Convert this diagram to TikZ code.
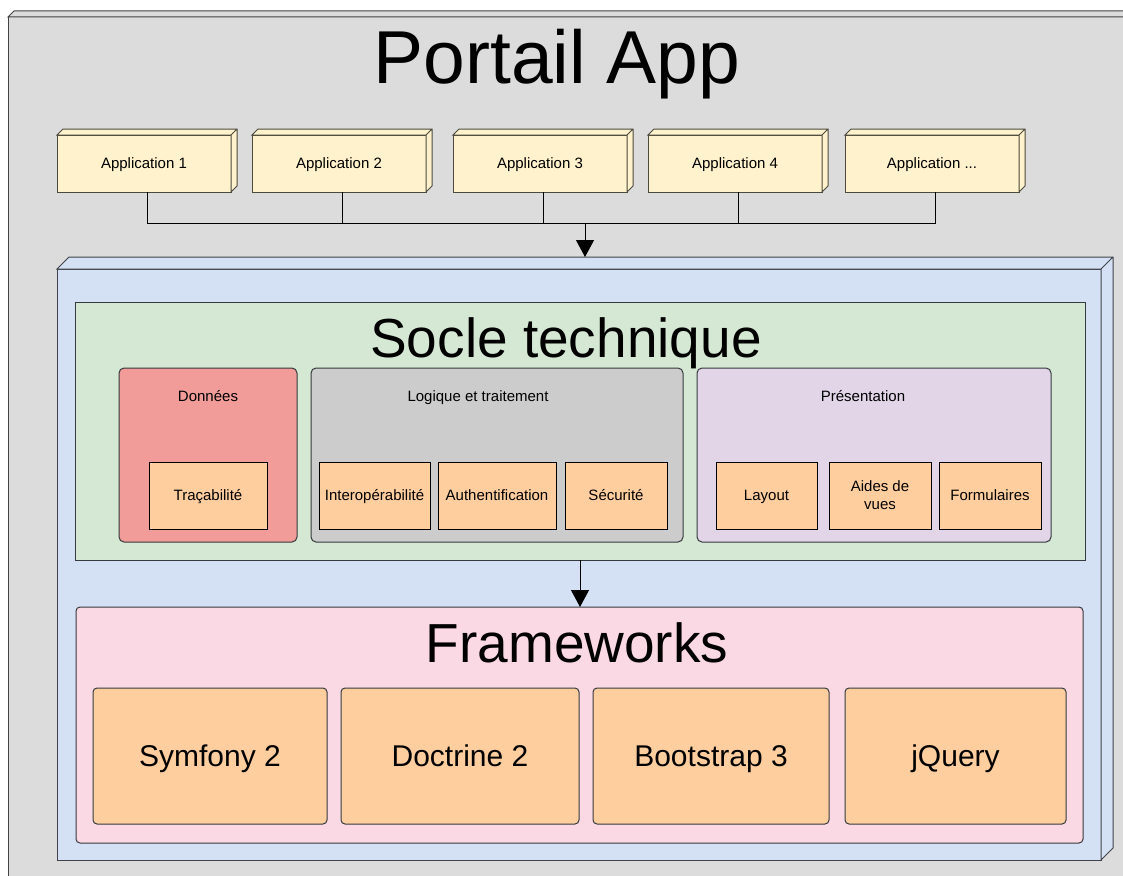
\documentclass[tikz,border=0pt]{standalone}
\usepackage{fontspec}
\setmainfont{Liberation Sans}
\usetikzlibrary{positioning, arrows.meta, calc}

\definecolor{outergray}{HTML}{DCDCDC}
\definecolor{appyellow}{HTML}{FFF2CC}
\definecolor{baseblue}{HTML}{D4E1F5}
\definecolor{soclegreen}{HTML}{D5E8D4}
\definecolor{datared}{HTML}{F19C99}
\definecolor{logicgray}{HTML}{CCCCCC}
\definecolor{prespurple}{HTML}{E1D5E7}
\definecolor{modorange}{HTML}{FFCE9F}
\definecolor{fwpink}{HTML}{FAD9E5}
\definecolor{edge}{HTML}{36393D}

\begin{document}
\begin{tikzpicture}[
  x=1pt, y=-1pt,
  line width=1pt,
  every node/.style={inner sep=0pt, outer sep=0pt},
  cube/.style={rectangle, draw=#1!30!black, fill=#1},
  app/.style={cube=appyellow, minimum width=174pt, minimum height=57pt, font=\fontsize{15}{18}\selectfont, text height=10.8pt, text depth=0pt},
  layer/.style={rectangle, draw=edge, fill=#1},
  group/.style={rectangle, rounded corners=5pt, draw=edge, fill=#1, minimum height=174pt},
  module/.style={rectangle, draw=black, fill=modorange, minimum height=67pt, align=center, font=\fontsize{15}{18}\selectfont, text height=10.8pt, text depth=0pt},
  fw/.style={rectangle, rounded corners=4pt, draw=edge, fill=modorange, minimum height=136pt, font=\fontsize{30}{36}\selectfont, text height=21.6pt, text depth=0pt},
  caption/.style={font=\fontsize{15}{18}\selectfont, text height=10.8pt, text depth=0pt},
  heading/.style={anchor=base, font=\fontsize{55}{66}\selectfont},
  arr/.style={-{Triangle[width=18pt,length=17pt]}}
]
\useasboundingbox (0,0) rectangle (1123,875);
\clip (0,0) rectangle (1123,875);

% outer container
\node[cube=outergray, minimum width=1142pt, minimum height=883pt] (portail) at (579,458.5) {};
\node[heading, font=\fontsize{75}{90}\selectfont] (portailtitle) at (557,83) {Portail App};

% applications
\node[app] (app1) at (144,163.5) {Application 1};
\node[app, right=21pt of app1] (app2) {Application 2};
\node[app, right=27pt of app2] (app3) {Application 3};
\node[app, right=21pt of app3] (app4) {Application 4};
\node[app, right=23pt of app4] (app5) {Application ...};

% base block
\node[cube=baseblue, minimum width=1044pt, minimum height=591pt] (base) at (579,564.5) {};

% depth faces of the cubes
\foreach \n/\c/\d in {portail/outergray/6, app1/appyellow/6, app2/appyellow/6, app3/appyellow/6,
    app4/appyellow/6, app5/appyellow/6, base/baseblue/12}
  \draw[draw=\c!30!black, fill=\c] (\n.north west) -- ++(\d,-\d) -- ([shift={(\d,-\d)}]\n.north east)
    -- ([shift={(\d,-\d)}]\n.south east) -- (\n.south east) -- (\n.north east) -- cycle
    (\n.north east) -- ++(\d,-\d);

% socle technique
\node[layer=soclegreen, minimum width=1010pt, minimum height=258pt] (socle) at (580,431) {};
\node[heading] (socletitle) at (566,357) {Socle technique};

\node[group=datared, minimum width=178pt] (donnees) at (208,455) {};
\node[group=logicgray, minimum width=372pt, right=14pt of donnees] (logique) {};
\node[group=prespurple, minimum width=354pt, right=14pt of logique] (pres) {};
\node[caption] (donneeslbl) at (208,396) {Données};
\node[caption] (logiquelbl) at (478,396) {Logique et traitement};
\node[caption] (preslbl) at (863,396) {Présentation};

\node[module, minimum width=118pt] (trac) at (208,495.5) {Traçabilité};
\node[module, minimum width=111pt, right=52pt of trac] (interop) {Interopérabilité};
\node[module, minimum width=118pt, right=8pt of interop] (auth) {Authentification};
\node[module, minimum width=102pt, right=9pt of auth] (secu) {Sécurité};
\node[module, minimum width=101pt, right=49pt of secu] (layout) {Layout};
\node[module, minimum width=102pt, right=12pt of layout, text height={}, text depth={}] (aides) {Aides de\\vues};
\node[module, minimum width=102pt, right=8pt of aides] (forms) {Formulaires};

% frameworks
\node[layer=fwpink, rounded corners=4pt, minimum width=1007pt, minimum height=236pt] (frameworks) at (579.5,725) {};
\node[heading] (fwtitle) at (577,662) {Frameworks};
\node[fw, minimum width=234pt] (symfony) at (210,756) {Symfony 2};
\node[fw, minimum width=238pt, right=14pt of symfony] (doctrine) {Doctrine 2};
\node[fw, minimum width=236pt, right=14pt of doctrine] (bootstrap) {Bootstrap 3};
\node[fw, minimum width=221pt, right=16pt of bootstrap] (jquery) {jQuery};

% connectors
\coordinate (bus) at (585,223);
\coordinate (basetop) at ($(base.north)+(6,-12)$);
\foreach \n in {app1,app2,app3,app4,app5}
  \draw ([xshift=3pt]\n.south) |- (bus);
\draw[arr] (bus) -- (basetop);
\draw[arr] (socle.south) -- (socle.south |- frameworks.north);
\end{tikzpicture}
\end{document}
